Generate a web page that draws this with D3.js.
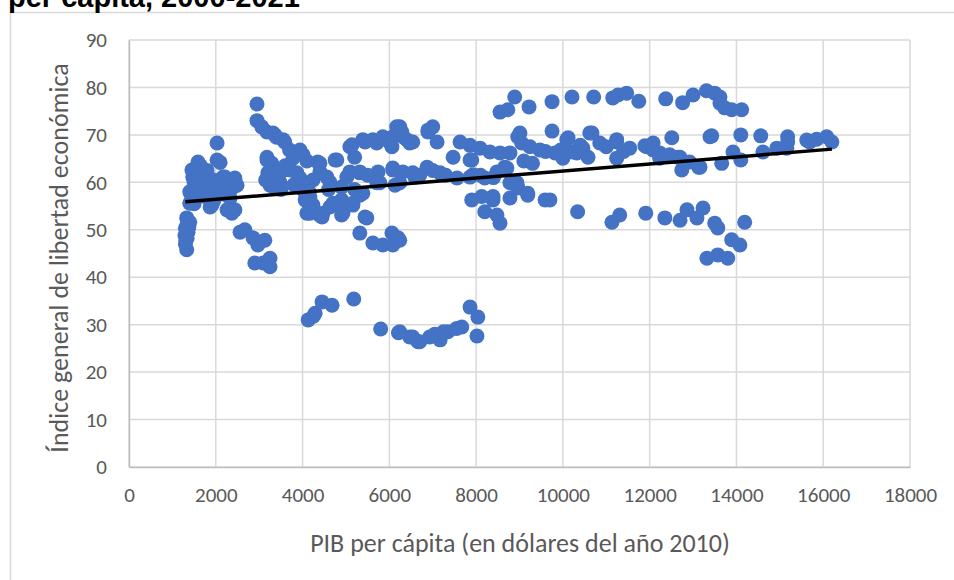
<!DOCTYPE html>
<html>
<head>
<meta charset="utf-8">
<script src="https://cdn.jsdelivr.net/npm/d3@7"></script>
<style>
  body { margin: 0; background: #fff; }
  text { font-family: Carlito, "Open Sans", "Liberation Sans", sans-serif; }
</style>
</head>
<body>
<div id="chart"></div>
<script>
// data: [PIB per cápita, índice]
let leftGroup = [
  [1330,45.8],[1300,47],[1340,48.2],[1290,48.8],[1360,49.5],[1300,50.3],[1340,51.2],[1400,51.6],
  [1330,52.5],[1310,47.8],[1380,50.6],[1320,49.8],
  [1400,55.6],[1400,58],[1450,57],[1470,61.1],[1450,62.6],[1500,60],[1590,64.3],[1650,63.5],
  [1700,61.6],[1680,59.4],[1550,58.8],[1600,62],[1750,60.5],[1800,59],[1870,58],[1900,57],
  [1910,55.2],[1870,54.8],[1950,56],[2000,58.5],[2030,68.3],[2030,64.7],[2100,64.2],[2100,58],
  [2170,61.1],[2210,61.1],[2250,60],[2300,59],[2330,56.7],[2400,59],[2440,60.9],[2490,59.4],
  [2440,60.5],[2260,54.2],[2370,53.5],[2440,54.2],[2200,57.5],[2050,60],[1800,62.5],[1950,60.5],
  [2150,59.2],[1500,55.5],[1750,57],
  [2560,49.5],[2670,50],[2860,48.3],[2970,46.8],[3130,47.8],[2900,43],[3090,43],[3250,44],[3250,42.2]
];
let midGroup = [
  [2950,76.5],[2950,73],[3060,71.7],[3180,70.6],[3320,70.4],[3360,70],[3550,69],[3590,68.5],[3400,69.5],
  [3180,65.3],[3180,64.7],[3290,64],[3200,62],[3250,59.4],[3250,62],[3480,60],[3400,61.5],[3550,62.5],
  [3600,63.5],[3710,62.6],[3780,65.1],[3700,66.8],[3870,62],[3940,66.8],[3940,60.9],[4010,65.8],
  [4100,64.5],[4240,60.5],[4350,64.3],[4400,62.2],[4400,64],[4560,61.1],[4630,60],[4750,64.7],
  [4790,64.7],[5020,61.1],[5090,62.2],[5320,62.2],[5320,62],[5500,61.5],[5740,62.2],[5780,59.9],
  [5710,59.9],[6080,63],[6080,62.6],[6130,59.4],[6240,59.9],[6310,62.2],[6540,62],[6590,61.1],
  [3800,59.5],[4000,58.5],[4150,58],[3500,58.5],[3350,59],[3150,60.5],[4600,58.5],[4900,59],[5200,58.5],
  [5090,67.5],[5140,67.9],[5200,65.3],[5390,69],[5440,68.5],[5620,69],[5710,68.3],[5850,69.6],
  [6060,67.5],[6080,69.6],[6170,71.7],[6240,71.7],[6290,70.6],[6310,69.6],[6400,69],[6470,68.3],
  [6540,68.5],[6000,68.5],
  [4060,56.3],[4100,57],[4100,53.5],[4170,56.9],[4170,53.5],[4240,55.2],[4400,53],[4450,52.7],
  [4470,53.5],[4630,54.8],[4700,55.6],[4900,56.3],[4900,53.1],[4930,53.5],[5160,55.2],[5160,55.6],
  [5320,57.3],[5390,57.7],[5440,52.7],[5480,52.5],[5320,49.3],[5620,47.2],[5850,46.8],[6060,49.3],
  [6200,48.3],[6080,46.8],[6240,47.8]
];
let lowGroup = [
  [4130,31],[4290,32.4],[4250,31.8],[4450,34.8],[4680,34.1],[5180,35.4],[5800,29.1],[6210,28.3],
  [6470,27.4],[6660,26.4],[6240,28.5],[6540,27.4],[6700,26.4],[6930,27.4],[7170,26.8],[7350,28.5],
  [7670,29.5],[7860,33.7],[8040,31.6],[8020,27.6],[7050,28],[7250,28.5],[7550,29.2]
];
let rightGroup = [
  [6870,63.2],[6890,70.6],[7000,71.7],[7100,68.5],[6890,71],[7170,62],[7210,61.6],[7470,65.3],
  [7560,60.9],[7630,68.5],[7860,67.8],[7860,64.7],[7900,64.7],[7860,61.1],[7930,61.6],[8090,67.2],
  [8200,60.9],[8320,66.4],[8480,62.2],[8550,66.2],[8660,63.2],[8710,63],[8780,66.2],[8780,59.9],
  [8940,59.9],[8960,59],[8960,69.6],[9010,70.4],[9050,68.3],[9240,67.5],[9470,66.8],[6700,61.5],
  [7000,62.5],[7300,61.5],[8100,61.5],[8400,61],[9100,64.5],[9300,64],
  [7900,56.3],[8130,57],[8390,57],[8390,56.3],[8200,53.8],[8480,53.1],[8550,51.4],[8780,56.7],
  [8960,58.8],[9190,57.7],[9190,57.3],[9590,56.3],[9700,56.3],
  [8550,74.8],[8730,75.3],[8890,78],[9220,75.9],[9750,77],[10210,78],[10710,78],[11150,77.8],
  [11270,78.4],[11470,78.8],[11750,77.1],[12370,77.6],[12760,76.8],[13000,78.4],[13310,79.3],
  [13500,78.8],[13620,78],[13620,76.7],[13730,75.7],[13890,75.3],[14120,75.3],
  [9750,70.8],[9820,66.2],[10000,65.1],[10090,69],[10120,69.4],[10230,66.4],[10320,66.2],[10460,67.2],
  [10580,65.3],[10620,70.4],[10670,70.4],[10850,68.3],[11240,69],[11240,68.5],[11240,65.1],[11540,67.2],
  [11890,67.7],[11930,67.5],[12080,68.3],[12080,66.8],[12230,66.2],[12230,65.1],[12510,69.4],[12460,65.8],
  [12650,65.3],[12700,65.3],[12740,62.6],[12920,64.3],[13130,63.2],[13160,63.2],[13390,69.6],[13430,69.8],
  [13660,64],[13920,66.4],[14100,70],[14100,64.7],[14560,69.8],[14610,66.4],[14930,67.2],[15160,67.2],
  [15180,69.6],[15180,68.5],[15620,68.9],[15690,68.5],[15850,69.1],[16080,69.6],[16200,68.5],
  [9600,66.5],[9950,66.8],[10400,67.8],[11000,67.5],[11400,66.5],
  [10340,53.8],[11130,51.6],[11310,53.1],[11910,53.5],[12350,52.5],[12700,52],[12860,54.2],[13090,52.5],
  [13230,54.6],[13500,51.4],[13570,50.4],[13890,47.9],[14080,46.8],[14190,51.6],[13320,44],[13570,44.7],
  [13800,44]
];
let points = leftGroup.concat(midGroup, lowGroup, rightGroup);

// linear trend line as drawn in the picture
let trend = [[1300, 55.9], [16200, 67.0]];

let xTicks = [0, 2000, 4000, 6000, 8000, 10000, 12000, 14000, 16000, 18000];
let yTicks = [0, 10, 20, 30, 40, 50, 60, 70, 80, 90];

let titleText = "per cápita, 2000-2021";
let xTitle = "PIB per cápita (en dólares del año 2010)";
let yTitle = "Índice general de libertad económica";

let svgWidth = 954;
let svgHeight = 580;

let margin = { top: 40, right: 44, bottom: 113, left: 129 };
let width = svgWidth - margin.left - margin.right;
let height = svgHeight - margin.top - margin.bottom;

let svg = d3.select("#chart")
    .append("svg")
    .attr("width", svgWidth)
    .attr("height", svgHeight);

// outer chart border (top and left show)
svg.append("rect")
    .attr("x", 10.5)
    .attr("y", 12.5)
    .attr("width", 960)
    .attr("height", 600)
    .attr("fill", "none")
    .attr("stroke", "#d9d9d9")
    .attr("stroke-width", 1.5);

// title, cut at the top of the picture
svg.append("text")
    .attr("x", 8)
    .attr("y", 7)
    .style("font-family", "'Liberation Sans', Arial, sans-serif")
    .attr("font-weight", "bold")
    .attr("font-size", "29px")
    .attr("fill", "#000")
    .text(titleText);

let chartGroup = svg.append("g")
    .attr("transform", `translate(${margin.left}, ${margin.top})`);

let xLinearScale = d3.scaleLinear().domain([0, 18000]).range([0, width]);
let yLinearScale = d3.scaleLinear().domain([0, 90]).range([height, 0]);

// gridlines
chartGroup.append("g")
    .selectAll("line")
    .data(xTicks)
    .enter()
    .append("line")
    .attr("x1", d => xLinearScale(d))
    .attr("x2", d => xLinearScale(d))
    .attr("y1", 0)
    .attr("y2", height)
    .attr("stroke", "#d9d9d9")
    .attr("stroke-width", 1.5);

chartGroup.append("g")
    .selectAll("line")
    .data(yTicks)
    .enter()
    .append("line")
    .attr("x1", 0)
    .attr("x2", width)
    .attr("y1", d => yLinearScale(d))
    .attr("y2", d => yLinearScale(d))
    .attr("stroke", "#d9d9d9")
    .attr("stroke-width", 1.5);

// axes
let bottomAxis = d3.axisBottom(xLinearScale).tickValues(xTicks).tickFormat(d3.format("d"))
    .tickSize(0).tickPadding(20);
let leftAxis = d3.axisLeft(yLinearScale).tickValues(yTicks).tickFormat(d3.format("d"))
    .tickSize(0).tickPadding(22);

let xAxis = chartGroup.append("g")
    .attr("transform", `translate(0, ${height})`)
    .call(bottomAxis);
let yAxis = chartGroup.append("g")
    .call(leftAxis);

[xAxis, yAxis].forEach(function(ax) {
    ax.select(".domain").attr("stroke", "#bfbfbf").attr("stroke-width", 1.5);
    ax.selectAll("text")
        .attr("font-size", "21px")
        .attr("fill", "#595959")
        .style("font-family", "Carlito, 'Open Sans', 'Liberation Sans', sans-serif");
});

// points
chartGroup.append("g")
    .selectAll("circle")
    .data(points)
    .enter()
    .append("circle")
    .attr("cx", d => xLinearScale(d[0]))
    .attr("cy", d => yLinearScale(d[1]))
    .attr("r", 7.5)
    .attr("fill", "#4472c4");

// trend line
let line = d3.line()
    .x(d => xLinearScale(d[0]))
    .y(d => yLinearScale(d[1]));

chartGroup.append("path")
    .datum(trend)
    .attr("d", line)
    .attr("fill", "none")
    .attr("stroke", "#000")
    .attr("stroke-width", 3.5);

// axis titles
chartGroup.append("text")
    .attr("x", 391)
    .attr("y", height + 85)
    .attr("text-anchor", "middle")
    .attr("font-size", "26px")
    .attr("fill", "#595959")
    .text(xTitle);

chartGroup.append("text")
    .attr("transform", "rotate(-90)")
    .attr("x", -(258 - margin.top))
    .attr("y", -61)
    .attr("text-anchor", "middle")
    .attr("font-size", "26px")
    .attr("fill", "#595959")
    .text(yTitle);
</script>
</body>
</html>
